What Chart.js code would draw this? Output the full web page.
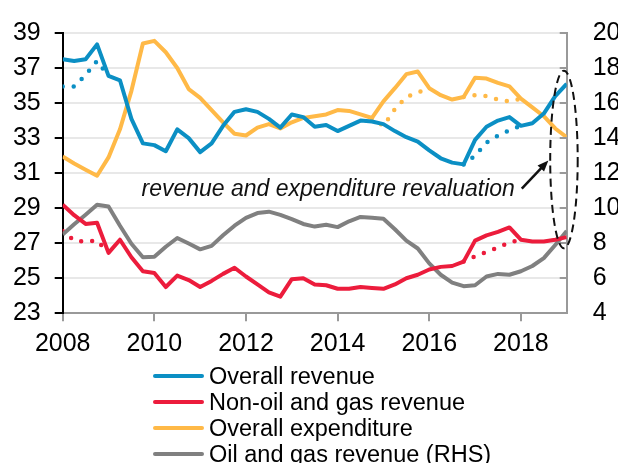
<!DOCTYPE html>
<html>
<head>
<meta charset="utf-8">
<script src="https://cdn.jsdelivr.net/npm/chart.js@4.4.1/dist/chart.umd.min.js"></script>
<style>
  html, body { margin: 0; padding: 0; background: #fff; overflow: hidden; }
  #wrap { position: relative; width: 618px; height: 463px; }
  #legend { position: absolute; left: 153px; top: 363px; font: 23.5px "Liberation Sans", Arial, sans-serif; color: #000; }
  .item { height: 26px; display: flex; align-items: center; white-space: nowrap; }
  .swatch { width: 51px; height: 4.5px; border-radius: 3px; margin-right: 5px; flex: none; }
</style>
</head>
<body>
<div id="wrap">
  <canvas id="chart"></canvas>
  <div id="legend"></div>
</div>
<script>
// Trimestres
const quarters = [
  "2008Q1", "2008Q2", "2008Q3", "2008Q4", "2009Q1", "2009Q2", "2009Q3", "2009Q4",
  "2010Q1", "2010Q2", "2010Q3", "2010Q4", "2011Q1", "2011Q2", "2011Q3", "2011Q4",
  "2012Q1", "2012Q2", "2012Q3", "2012Q4", "2013Q1", "2013Q2", "2013Q3", "2013Q4",
  "2014Q1", "2014Q2", "2014Q3", "2014Q4", "2015Q1", "2015Q2", "2015Q3", "2015Q4",
  "2016Q1", "2016Q2", "2016Q3", "2016Q4", "2017Q1", "2017Q2", "2017Q3", "2017Q4",
  "2018Q1", "2018Q2", "2018Q3", "2018Q4", "2019Q1",
]

// Séries (% do PIB, eixo esquerdo)
const overallRevenue = [
  37.5, 37.4, 37.5, 38.35, 36.55, 36.3, 34.1, 32.7, 32.6, 32.25,
  33.5, 33.0, 32.2, 32.7, 33.7, 34.5, 34.65, 34.5, 34.1, 33.6,
  34.35, 34.2, 33.65, 33.75, 33.4, 33.7, 34.0, 33.95, 33.8, 33.4,
  33.05, 32.8, 32.3, 31.85, 31.6, 31.5, 32.9, 33.65, 34.0, 34.2,
  33.7, 33.85, 34.4, 35.4, 36.1,
]
const nonOilRevenue = [
  29.2, 28.6, 28.1, 28.17, 26.45, 27.2, 26.2, 25.4, 25.3, 24.5,
  25.15, 24.9, 24.5, 24.85, 25.25, 25.6, 25.1, 24.65, 24.2, 23.95,
  24.95, 25.0, 24.65, 24.6, 24.4, 24.4, 24.5, 24.45, 24.4, 24.65,
  25.0, 25.2, 25.5, 25.65, 25.7, 25.95, 27.15, 27.45, 27.65, 27.9,
  27.2, 27.1, 27.1, 27.2, 27.35,
]
const overallExpenditure = [
  31.95, 31.55, 31.2, 30.85, 31.9, 33.5, 35.7, 38.4, 38.55, 37.9,
  37.0, 35.8, 35.3, 34.6, 33.9, 33.25, 33.15, 33.6, 33.8, 33.55,
  33.9, 34.15, 34.25, 34.35, 34.6, 34.55, 34.35, 34.15, 35.1, 35.85,
  36.65, 36.8, 35.85, 35.45, 35.2, 35.35, 36.45, 36.4, 36.15, 35.95,
  35.25, 34.75, 34.25, 33.55, 33.05,
]
// Eixo direito
const oilGasRevenue = [
  8.5, 9.08, 9.63, 10.2, 10.1, 9.0, 7.97, 7.2, 7.23, 7.8,
  8.3, 7.98, 7.65, 7.85, 8.45, 9.0, 9.45, 9.72, 9.8, 9.62,
  9.38, 9.1, 8.95, 9.05, 8.92, 9.25, 9.5, 9.45, 9.4, 8.8,
  8.15, 7.7, 6.85, 6.2, 5.75, 5.55, 5.6, 6.1, 6.25, 6.2,
  6.4, 6.7, 7.15, 7.9, 8.7,
]

// Séries antes da reavaliação (pontilhadas)
const revenueOld = [
  35.95, 35.95, 36.6, 37.4, 36.55, null, null, null, null, null,
  null, null, null, null, null, null, null, null, null, null,
  null, null, null, null, null, null, null, null, null, null,
  null, null, null, null, null, 31.5, 32.0, 32.75, 33.15, 33.45,
  33.7, null, null, null, null,
]
const nonOilOld = [
  27.7, 27.15, 27.1, 27.15, 26.45, null, null, null, null, null,
  null, null, null, null, null, null, null, null, null, null,
  null, null, null, null, null, null, null, null, null, null,
  null, null, null, null, null, 25.95, 26.25, 26.5, 26.75, 27.05,
  27.2, null, null, null, null,
]
const expenditureOld = [
  null, null, null, null, null, null, null, null, null, null,
  null, null, null, null, null, null, null, null, null, null,
  null, null, null, null, null, null, null, 34.15, 33.7, 34.65,
  35.35, 35.6, 35.85, null, null, 35.35, 35.45, 35.4, 35.2, 35.1,
  35.25, null, null, null, null,
]

const seriesNames = ["Overall revenue", "Non-oil and gas revenue", "Overall expenditure", "Oil and gas revenue (RHS)"]
const colors = ["#0b8fc4", "#ec1c3c", "#ffb947", "#808080"]

const xTicks = [2008, 2010, 2012, 2014, 2016, 2018]
const yLeftTicks = [23, 25, 27, 29, 31, 33, 35, 37, 39]
const yRightTicks = [4, 6, 8, 10, 12, 14, 16, 18, 20]

const noteText = "revenue and expenditure revaluation"

const FONT = '"Liberation Sans", Arial, sans-serif'

// Trimestre -> ano decimal
function toX(q) {
  return Number(q.slice(0, 4)) + (Number(q.slice(5)) - 1) / 4
}

function points(values) {
  return values.map((v, i) => ({ x: toX(quarters[i]), y: v }))
}

function solid(label, values, color, axis) {
  return {
    label: label,
    data: points(values),
    borderColor: color,
    borderWidth: 4,
    yAxisID: axis,
  }
}

function dotted(values, color) {
  return {
    label: "",
    data: points(values),
    borderColor: color,
    borderWidth: 4.5,
    borderDash: [0, 11],
    borderCapStyle: "round",
  }
}

// Anotação: texto, seta e elipse tracejada
const notesPlugin = {
  id: "notes",
  afterDraw(chart) {
    const { ctx, scales } = chart
    const x = scales.x
    const y = scales.y
    const y2 = scales.y2
    ctx.save()

    // ticks internos do eixo direito
    ctx.strokeStyle = "#999"
    ctx.lineWidth = 2
    y2.ticks.forEach((t) => {
      const py = Math.round(y2.getPixelForValue(t.value))
      ctx.beginPath()
      ctx.moveTo(y2.left - 7, py)
      ctx.lineTo(y2.left, py)
      ctx.stroke()
    })

    ctx.fillStyle = "#111"
    ctx.font = "italic 23px " + FONT
    ctx.textBaseline = "alphabetic"
    ctx.fillText(noteText, x.getPixelForValue(2009.72), y.getPixelForValue(29.7))

    // seta
    const x0 = x.getPixelForValue(2018.02)
    const y0 = y.getPixelForValue(30.12)
    const x1 = x.getPixelForValue(2018.6)
    const y1 = y.getPixelForValue(31.72)
    const ang = Math.atan2(y1 - y0, x1 - x0)
    ctx.strokeStyle = "#111"
    ctx.lineWidth = 2.5
    ctx.beginPath()
    ctx.moveTo(x0, y0)
    ctx.lineTo(x1 - 8 * Math.cos(ang), y1 - 8 * Math.sin(ang))
    ctx.stroke()
    ctx.beginPath()
    ctx.moveTo(x1, y1)
    ctx.lineTo(x1 - 11 * Math.cos(ang) + 4.5 * Math.sin(ang), y1 - 11 * Math.sin(ang) - 4.5 * Math.cos(ang))
    ctx.lineTo(x1 - 11 * Math.cos(ang) - 4.5 * Math.sin(ang), y1 - 11 * Math.sin(ang) + 4.5 * Math.cos(ang))
    ctx.closePath()
    ctx.fill()

    // elipse
    const cx = x.getPixelForValue(2018.94)
    const cy = y.getPixelForValue(31.78)
    const rx = x.getPixelForValue(2019.24) - cx
    const ry = cy - y.getPixelForValue(36.85)
    ctx.setLineDash([8, 5])
    ctx.lineWidth = 2
    ctx.beginPath()
    ctx.ellipse(cx, cy, rx, ry, 0, 0, Math.PI * 2)
    ctx.stroke()
    ctx.restore()
  },
}

// Legenda em HTML (colunas empilhadas)
function buildLegend() {
  const legend = document.getElementById("legend")
  seriesNames.forEach((name, i) => {
    const item = document.createElement("div")
    item.className = "item"
    const sw = document.createElement("span")
    sw.className = "swatch"
    sw.style.background = colors[i]
    const txt = document.createElement("span")
    txt.textContent = name
    item.appendChild(sw)
    item.appendChild(txt)
    legend.appendChild(item)
  })
}

function createChart() {
  const ctx = document.getElementById("chart").getContext("2d")
  const tickFont = { family: FONT, size: 25 }

  new Chart(ctx, {
    type: "line",
    data: {
      datasets: [
        solid(seriesNames[0], overallRevenue, colors[0], "y"),
        solid(seriesNames[1], nonOilRevenue, colors[1], "y"),
        solid(seriesNames[2], overallExpenditure, colors[2], "y"),
        solid(seriesNames[3], oilGasRevenue, colors[3], "y2"),
        dotted(revenueOld, colors[0]),
        dotted(nonOilOld, colors[1]),
        dotted(expenditureOld, colors[2]),
      ],
    },
    options: {
      responsive: true,
      maintainAspectRatio: false,
      animation: false,
      layout: { padding: { top: 24.7, bottom: 104.7, left: 0, right: 0 } },
      plugins: {
        legend: { display: false },
        tooltip: { enabled: false },
      },
      elements: {
        point: { radius: 0 },
        line: { tension: 0, borderJoinStyle: "round" },
      },
      scales: {
        x: {
          type: "linear",
          min: 2008,
          max: 2019,
          afterBuildTicks: (s) => { s.ticks = xTicks.map((v) => ({ value: v })) },
          afterFit: (s) => { s.height = 45 },
          grid: { drawOnChartArea: false, drawTicks: true, tickLength: 8, color: "#999", lineWidth: 2 },
          border: { color: "#999", width: 2 },
          ticks: { font: tickFont, color: "#000", padding: 8, maxRotation: 0, callback: (v) => String(v) },
        },
        y: {
          position: "left",
          min: 23,
          max: 39,
          afterBuildTicks: (s) => { s.ticks = yLeftTicks.map((v) => ({ value: v })) },
          afterFit: (s) => { s.width = 62.7 },
          grid: { color: "#e8e8e8", lineWidth: 2, tickColor: "#000", tickLength: 8 },
          border: { color: "#000", width: 2 },
          ticks: { font: tickFont, color: "#000", padding: 14, callback: (v) => String(v) },
        },
        y2: {
          position: "right",
          min: 4,
          max: 20,
          afterBuildTicks: (s) => { s.ticks = yRightTicks.map((v) => ({ value: v })) },
          afterFit: (s) => { s.width = 51.3 },
          grid: { display: false },
          border: { color: "#999", width: 2 },
          ticks: { font: tickFont, color: "#000", padding: 18, callback: (v) => String(v) },
        },
      },
    },
    plugins: [notesPlugin],
  })
}

buildLegend()
createChart()
</script>
</body>
</html>
